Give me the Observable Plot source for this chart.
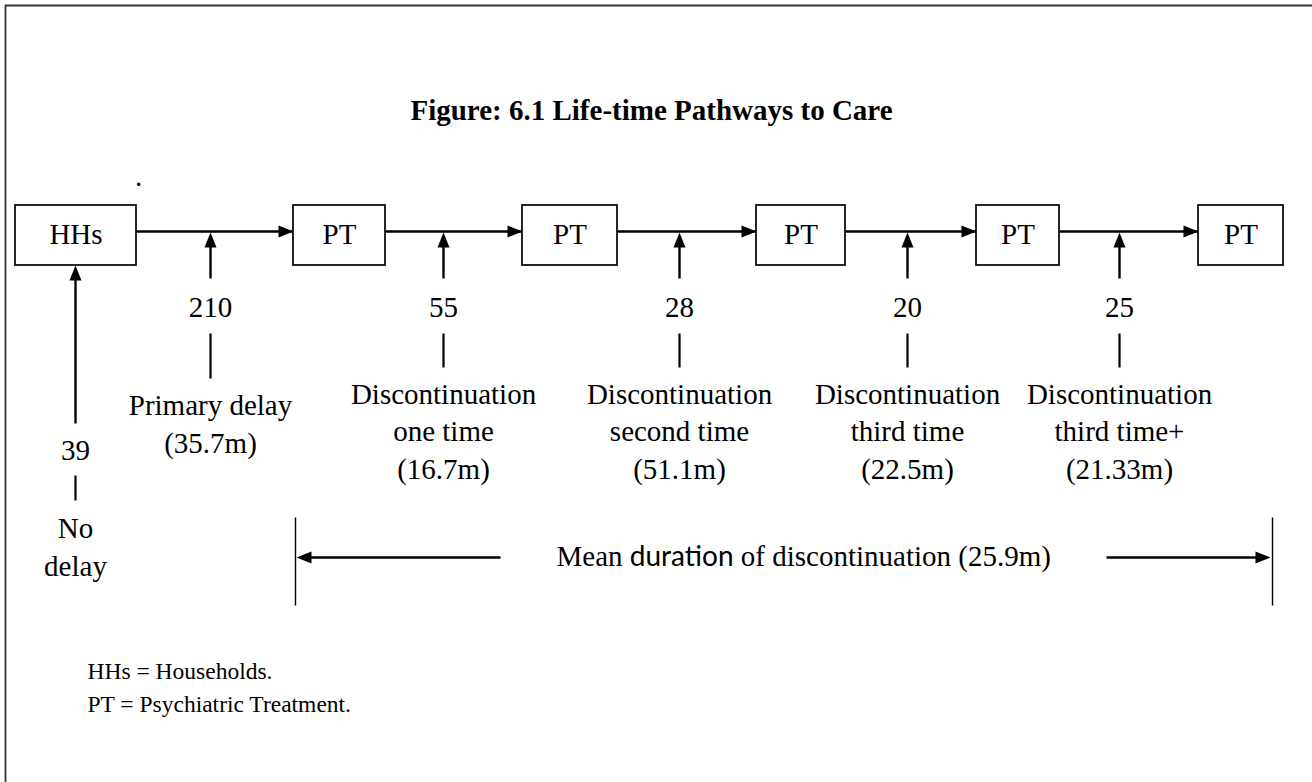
<!DOCTYPE html>
<html>
<head>
<meta charset="utf-8">
<script src="https://cdn.jsdelivr.net/npm/d3@7"></script>
<script src="https://cdn.jsdelivr.net/npm/@observablehq/plot@0.6"></script>
<style>
  html, body { margin: 0; padding: 0; background: #fff; }
  #chart svg { display: block; }
</style>
</head>
<body>
<div id="chart"></div>
<script>
// ---------------- data ----------------
const title = "Figure: 6.1 Life-time Pathways to Care";
const nodeLabels = ["HHs", "PT", "PT", "PT", "PT", "PT"];
const stageCounts = [39, 210, 55, 28, 20, 25];
const stageNames = [
  "No\ndelay",
  "Primary delay",
  "Discontinuation\none time",
  "Discontinuation\nsecond time",
  "Discontinuation\nthird time",
  "Discontinuation\nthird time+"
];
const stageDurations = [null, "35.7m", "16.7m", "51.1m", "22.5m", "21.33m"];
const meanLabelParts = ["Mean ", "duration", " of discontinuation (25.9m)"];
const notes = ["HHs = Households.", "PT = Psychiatric Treatment."];

// ---------------- layout (pixel space) ----------------
const W = 1312, H = 782;
const boxX1 = [15, 293, 522, 756, 976, 1198];
const boxX2 = [136, 385, 617, 845, 1059, 1283];
const boxTop = 205, boxBottom = 265, flowY = 231;
const stageX = [75, 210, 443, 679, 907, 1119];
const stageArrowFrom = [423, 278, 278, 278, 278, 278];
const stageArrowTo = [265, 232, 232, 232, 232, 232];
const stageCountY = [459, 316, 316, 316, 316, 316];
const stageBarY1 = [475, 333, 333, 333, 333, 333];
const stageBarY2 = [500, 378, 367, 367, 367, 367];
const stageLabelY = [575, 452, 478, 478, 478, 478];
const bracketX = [295, 1272], bracketY1 = 517, bracketY2 = 605, bracketArrowY = 557;
const bracketArrowStart = [500, 1106];
const fontMain = 29;
const lineH = 1.29;

// tables built from the arrays
const boxes = nodeLabels.map((label, i) => ({label, x1: boxX1[i], x2: boxX2[i]}));
const flows = nodeLabels.slice(1).map((_, i) => ({x1: boxX2[i], x2: boxX1[i + 1]}));
const stages = stageCounts.map((count, i) => ({
  count,
  label: stageDurations[i] ? `${stageNames[i]}\n(${stageDurations[i]})` : stageNames[i],
  x: stageX[i], from: stageArrowFrom[i], to: stageArrowTo[i],
  countY: stageCountY[i], barY1: stageBarY1[i], barY2: stageBarY2[i], labelY: stageLabelY[i]
}));
const heads = [
  ...flows.map(f => ({x: f.x2, y: flowY, rotate: 90})),
  ...stages.map(s => ({x: s.x, y: s.to, rotate: 0})),
  {x: bracketX[0] + 1, y: bracketArrowY, rotate: -90},
  {x: bracketX[1] - 2, y: bracketArrowY, rotate: 90}
];
const bracketArrows = [
  {x1: bracketArrowStart[0], x2: bracketX[0] + 8},
  {x1: bracketArrowStart[1], x2: bracketX[1] - 8}
];

// filled isosceles arrowhead, tip at the origin, pointing up
const headSymbol = {
  draw(ctx) { ctx.moveTo(0, 0); ctx.lineTo(-6, 15); ctx.lineTo(6, 15); ctx.closePath(); }
};

const meanText = meanLabelParts.join("");

const plot = Plot.plot({
  width: W, height: H,
  margin: 0, marginTop: 0, marginRight: 0, marginBottom: 0, marginLeft: 0,
  x: {domain: [0, W], range: [0, W], axis: null},
  y: {domain: [0, H], range: [0, H], axis: null},
  style: {fontFamily: "'Liberation Serif', 'Times New Roman', serif", color: "#000", background: "#fff"},
  marks: [
    // frame (top and left edges visible)
    Plot.ruleY([5], {x1: 5, x2: W, stroke: "#333", strokeWidth: 1.8}),
    Plot.ruleX([5], {y1: 5, y2: H, stroke: "#333", strokeWidth: 1.8}),
    // title
    Plot.text([title], {x: W / 2 - 5, y: 119, text: d => d, fontSize: 29, fontWeight: "bold", lineAnchor: "bottom"}),
    Plot.text(["."], {x: 138, y: 185, text: d => d, fontSize: fontMain, lineAnchor: "bottom"}),
    // flow lines between boxes
    Plot.link(flows, {x1: "x1", x2: "x2", y1: flowY, y2: flowY, stroke: "#000", strokeWidth: 2.4}),
    // boxes
    Plot.rect(boxes, {x1: "x1", x2: "x2", y1: boxTop, y2: boxBottom, fill: "#fff", stroke: "#000", strokeWidth: 1.7}),
    Plot.text(boxes, {x: d => (d.x1 + d.x2) / 2, y: 243, text: "label", fontSize: fontMain, lineAnchor: "bottom"}),
    // upward arrows from each stage
    Plot.link(stages, {x1: "x", x2: "x", y1: "from", y2: d => d.to + 6, stroke: "#000", strokeWidth: 2.4}),
    // counts
    Plot.text(stages, {x: "x", y: "countY", text: d => String(d.count), fontSize: fontMain, lineAnchor: "bottom"}),
    // short connector bars
    Plot.link(stages, {x1: "x", x2: "x", y1: "barY1", y2: "barY2", stroke: "#000", strokeWidth: 2.2}),
    // stage labels
    Plot.text(stages, {x: "x", y: "labelY", text: "label", fontSize: fontMain, lineAnchor: "bottom", lineHeight: lineH}),
    // mean duration bracket
    Plot.link(bracketX, {x1: d => d, x2: d => d, y1: bracketY1, y2: bracketY2, stroke: "#000", strokeWidth: 1.4}),
    Plot.link(bracketArrows, {x1: "x1", x2: "x2", y1: bracketArrowY, y2: bracketArrowY, stroke: "#000", strokeWidth: 2.4}),
    Plot.text([meanText], {x: 556, y: 565, text: d => d, fontSize: fontMain, textAnchor: "start", lineAnchor: "bottom"}),
    // arrowheads
    Plot.dot(heads, {x: "x", y: "y", rotate: "rotate", symbol: headSymbol, r: 5, fill: "#000", stroke: "none"}),
    // notes
    Plot.text(notes, {x: 87, y: (d, i) => 678 + i * 33, text: d => d, fontSize: 23.5, textAnchor: "start", lineAnchor: "bottom"})
  ]
});

// mixed fonts in the mean-duration label ("duration" appears in a sans face)
d3.select(plot).selectAll("text").filter(function () { return this.textContent === meanText; })
  .each(function () {
    const t = d3.select(this);
    t.text(null);
    meanLabelParts.forEach((part, i) => {
      const ts = t.append("tspan").text(part);
      if (i === 1) ts.attr("font-family", "Lato, 'Open Sans', sans-serif").attr("font-size", 28);
    });
    t.attr("xml:space", "preserve").style("white-space", "pre");
  });

document.getElementById("chart").appendChild(plot);
</script>
</body>
</html>
